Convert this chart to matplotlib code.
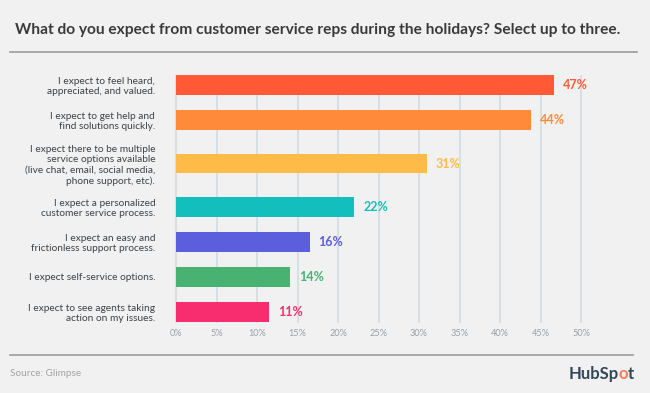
import matplotlib
matplotlib.use("Agg")
import matplotlib.pyplot as plt

# Survey data (bar lengths, labels as printed)
categories = [
    "I expect to feel heard,\nappreciated, and valued.",
    "I expect to get help and\nfind solutions quickly.",
    "I expect there to be multiple\nservice options available\n(live chat, email, social media,\nphone support, etc).",
    "I expect a personalized\ncustomer service process.",
    "I expect an easy and\nfrictionless support process.",
    "I expect self-service options.",
    "I expect to see agents taking\naction on my issues.",
]
values = [46.7, 43.8, 31.0, 22.0, 16.5, 14.1, 11.5]
value_labels = ["47%", "44%", "31%", "22%", "16%", "14%", "11%"]
ticks = [0, 5, 10, 15, 20, 25, 30, 35, 40, 45, 50]

bar_colors = ["#ff5a35", "#ff8a3a", "#ffbb47", "#13bfbd", "#5c5fdd", "#48b272", "#f82d6f"]
text_colors = ["#ff5a35", "#ff8a3a", "#ffbb47", "#13bfbd", "#5c5fdd", "#48b272", "#f82d6f"]

BG = "#f0f1f0"
W, H = 650, 393

plt.rcParams["font.family"] = ["Lato", "DejaVu Sans"]

fig = plt.figure(figsize=(W / 100, H / 100), dpi=100, facecolor=BG)

# axes placed in pixel terms: 0% at x=176, 50% at x=581, rows from y=75 to 323
x0, x50 = 176, 581
pad = 0.25
ppu = (x50 - x0) / 50
top_px, bot_px = 75, 323
ax = fig.add_axes([(x0 - pad * ppu) / W, (H - bot_px) / H,
                   (x50 - x0 + 2 * pad * ppu) / W, (bot_px - top_px) / H])
ax.set_facecolor(BG)
ax.set_xlim(-pad, 50 + pad)

# row positions (pixel units) - taller rows get more room
lines = [max(c.count("\n") + 1, 2) for c in categories]
ypos = [85]
for i in range(1, len(categories)):
    ypos.append(ypos[-1] + 35 + 4.25 * (lines[i - 1] + lines[i] - 4))
ax.set_ylim(bot_px, top_px)

ax.barh(ypos, values, height=19.5, color=bar_colors, zorder=3)
for y, v, lab, c in zip(ypos, values, value_labels, text_colors):
    ax.text(v + 1.1, y, lab, va="center", ha="left", color=c,
            fontsize=9, fontweight="bold", clip_on=False)

ax.set_xticks(ticks)
ax.set_xticklabels([f"{t}%" for t in ticks])
ax.grid(axis="x", color="#d5dbe1", linewidth=1.2, zorder=0)
ax.set_axisbelow(True)
ax.set_yticks(ypos)
ax.set_yticklabels(categories)
ax.tick_params(axis="y", length=0, pad=13.5, labelsize=7.3, labelcolor="#3e4247")
ax.tick_params(axis="x", length=0, pad=4, labelsize=6.6, labelcolor="#9aa0a8")
for t in ax.get_yticklabels():
    t.set_linespacing(1.2)
for s in ax.spines.values():
    s.set_visible(False)

# title, rules, footer
fig.text(15 / W, 1 - 30 / H, "What do you expect from customer service reps during the holidays? Select up to three.",
         fontsize=11.15, fontweight="bold", color="#3a3a3a", va="center", ha="left")
fig.add_artist(plt.Line2D([10 / W, 637 / W], [1 - 52 / H, 1 - 52 / H], color="#9b9b9b", linewidth=1.2))
fig.add_artist(plt.Line2D([10 / W, 633 / W], [1 - 355 / H, 1 - 355 / H], color="#9b9b9b", linewidth=1.2))
fig.text(10 / W, 1 - 374 / H, "Source: Glimpse", fontsize=7.2, color="#a3a3a3", va="center", ha="left")

# HubSpot wordmark, built right to left so the "o" can be orange
renderer = fig.canvas.get_renderer()
xr = 634
for part, col in [("t", "#33475b"), ("o", "#ff7a59"), ("HubSp", "#33475b")]:
    t = fig.text(xr / W, 1 - 374 / H, part, fontsize=12, fontweight="bold", color=col,
                 va="center", ha="right")
    xr -= t.get_window_extent(renderer).width

fig.savefig("out.png", dpi=100, facecolor=BG)
